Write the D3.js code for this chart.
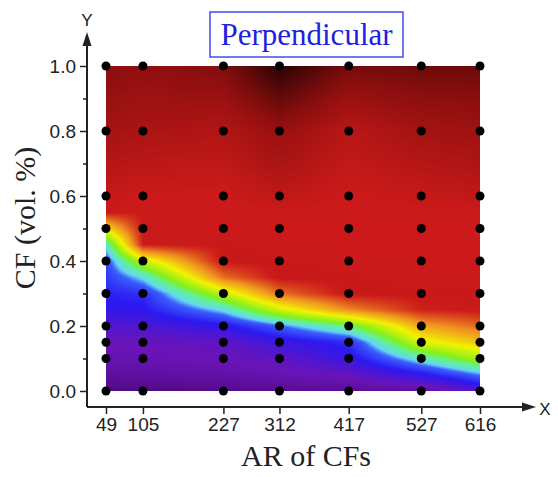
<!DOCTYPE html>
<html>
<head>
<meta charset="utf-8">
<script src="https://cdn.jsdelivr.net/npm/d3@7"></script>
<style>
body { margin: 0; background: #fff; }
</style>
</head>
<body>
<div id="chart"></div>
<script>
// AR of CFs (columns) and CF vol. % (rows) where the samples sit
var arValues = [49, 105, 227, 312, 417, 527, 616];
var cfValues = [0, 0.1, 0.15, 0.2, 0.3, 0.4, 0.5, 0.6, 0.8, 1.0];
var yMajor = [0, 0.2, 0.4, 0.6, 0.8, 1.0];
var yMinor = [0.1, 0.3, 0.5, 0.7, 0.9];

// colour level, one row per CF step (bottom to top), one value per AR column
var cfGrid = [0, 0.05, 0.1, 0.15, 0.2, 0.25, 0.3, 0.35, 0.4, 0.45, 0.5, 0.55, 0.6, 0.8, 1.0];
var lev000 = [0.2, 0.2, 0.3, 0.4, 0.5, 0.6, 1.4];
var lev005 = [0.6, 0.65, 0.75, 0.9, 1.1, 1.9, 2.8];
var lev010 = [0.9, 0.9, 1.0, 1.2, 1.8, 3.3, 4.35];
var lev015 = [1.0, 1.05, 1.2, 1.7, 2.2, 4.8, 5.5];
var lev020 = [1.35, 1.45, 1.9, 2.7, 3.7, 5.8, 6.35];
var lev025 = [1.9, 1.95, 3.1, 4.7, 6.05, 6.95, 7.05];
var lev030 = [2.1, 2.2, 4.55, 6.3, 7.1, 7.05, 7.05];
var lev035 = [2.3, 3.1, 6.3, 7.1, 7.05, 7.0, 7.0];
var lev040 = [2.45, 4.6, 7.1, 7.05, 7.0, 7.0, 7.0];
var lev045 = [3.2, 7.0, 7.05, 7.0, 7.0, 7.0, 7.0];
var lev050 = [5.2, 7.05, 7.0, 7.0, 7.0, 7.0, 7.0];
var lev055 = [7.05, 7.0, 7.0, 7.0, 7.0, 7.0, 7.0];
var lev060 = [7.1, 7.0, 7.0, 7.2, 7.0, 7.1, 7.2];
var lev080 = [7.6, 7.5, 7.4, 7.8, 7.3, 7.6, 7.7];
var lev100 = [8.0, 7.9, 8.1, 9.0, 8.2, 8.3, 8.3];
var levels = [lev000, lev005, lev010, lev015, lev020, lev025, lev030, lev035,
	lev040, lev045, lev050, lev055, lev060, lev080, lev100];

var colorDomain = [0, 1, 2, 2.7, 3, 3.5, 4, 5, 6, 7, 8, 9];
var colorRange = ["#4a0878", "#6a14b8", "#2c18f0", "#3a60ff", "#66d4f2", "#60f0a0", "#80f020",
	"#f2f200", "#f09220", "#cc1a1a", "#8a0e0e", "#2a0303"];

var w = 558;
var h = 477;

var x = d3.scaleLinear().domain([49, 616]).range([106, 480]);
var y = d3.scaleLinear().domain([0, 1]).range([391, 66]);
var color = d3.scaleLinear().domain(colorDomain).range(colorRange).clamp(true);

var svg = d3.select('#chart')
	.append('svg')
	.attr("width", w)
	.attr("height", h)
	.style("font-family", "Liberation Sans, Arial, sans-serif");

// heat map: bilinear between the grid values, drawn on a canvas
var x0 = Math.round(x(49)), x1 = Math.round(x(616));
var y0 = Math.round(y(1)), y1 = Math.round(y(0));
var cw = x1 - x0, ch = y1 - y0;
var canvas = document.createElement("canvas");
canvas.width = cw;
canvas.height = ch;
var ctx = canvas.getContext("2d");
var img = ctx.createImageData(cw, ch);

function seg(arr, v) {
	var i = d3.bisectRight(arr, v) - 1;
	if (i < 0) i = 0;
	if (i > arr.length - 2) i = arr.length - 2;
	var t = (v - arr[i]) / (arr[i + 1] - arr[i]);
	return [i, Math.max(0, Math.min(1, t))];
}

for (var py = 0; py < ch; py++) {
	var sy = seg(cfGrid, y.invert(y0 + py + 0.5));
	for (var px = 0; px < cw; px++) {
		var sx = seg(arValues, x.invert(x0 + px + 0.5));
		var a = levels[sy[0]], b = levels[sy[0] + 1];
		var lo = a[sx[0]] * (1 - sx[1]) + a[sx[0] + 1] * sx[1];
		var hi = b[sx[0]] * (1 - sx[1]) + b[sx[0] + 1] * sx[1];
		var c = d3.rgb(color(lo * (1 - sy[1]) + hi * sy[1]));
		var k = (py * cw + px) * 4;
		img.data[k] = c.r;
		img.data[k + 1] = c.g;
		img.data[k + 2] = c.b;
		img.data[k + 3] = 255;
	}
}
ctx.putImageData(img, 0, 0);

svg.append("image")
	.attr("x", x0)
	.attr("y", y0)
	.attr("width", cw)
	.attr("height", ch)
	.attr("href", canvas.toDataURL());

// sample points
var pts = [];
cfValues.forEach(function (cf) {
	arValues.forEach(function (ar) { pts.push([ar, cf]); });
});
svg.selectAll("circle.pt")
	.data(pts)
	.enter()
	.append("circle")
	.attr("class", "pt")
	.attr("cx", function (d) { return x(d[0]); })
	.attr("cy", function (d) { return y(d[1]); })
	.attr("r", 4.5)
	.style("fill", "#000");

// axes
var axX = 87, axY = 407;

var gx = svg.append("g")
	.attr("transform", "translate(0," + axY + ")")
	.call(d3.axisBottom(x).tickValues(arValues).tickSize(7).tickPadding(4).tickFormat(d3.format("d")));
gx.select(".domain").remove();
gx.selectAll("line").attr("stroke", "#222").attr("stroke-width", 1.5);
gx.selectAll("text").attr("font-size", 19).attr("fill", "#222");

var gy = svg.append("g")
	.attr("transform", "translate(" + axX + ",0)")
	.call(d3.axisLeft(y).tickValues(yMajor).tickSize(7).tickPadding(4).tickFormat(d3.format(".1f")));
gy.select(".domain").remove();
gy.selectAll("line").attr("stroke", "#222").attr("stroke-width", 1.5);
gy.selectAll("text").attr("font-size", 19).attr("fill", "#222");

var gy2 = svg.append("g")
	.attr("transform", "translate(" + axX + ",0)")
	.call(d3.axisLeft(y).tickValues(yMinor).tickSize(4).tickFormat(""));
gy2.select(".domain").remove();
gy2.selectAll("line").attr("stroke", "#222").attr("stroke-width", 1.5);

svg.append("line").attr("x1", axX).attr("y1", axY).attr("x2", 526).attr("y2", axY)
	.attr("stroke", "#222").attr("stroke-width", 2);
svg.append("line").attr("x1", axX).attr("y1", axY).attr("x2", axX).attr("y2", 42)
	.attr("stroke", "#222").attr("stroke-width", 2);
svg.append("path").attr("d", "M536," + axY + " L522," + (axY - 4.5) + " L522," + (axY + 4.5) + " Z").attr("fill", "#222");
svg.append("path").attr("d", "M" + axX + ",32 L" + (axX - 4.5) + ",46 L" + (axX + 4.5) + ",46 Z").attr("fill", "#222");

svg.append("text").attr("x", 545).attr("y", 415).attr("text-anchor", "middle")
	.attr("font-size", 17).attr("fill", "#222").text("X");
svg.append("text").attr("x", axX).attr("y", 26).attr("text-anchor", "middle")
	.attr("font-size", 17).attr("fill", "#222").text("Y");

// titles
svg.append("text")
	.attr("x", 306).attr("y", 466)
	.attr("text-anchor", "middle")
	.style("font-family", "Liberation Serif, Times New Roman, serif")
	.attr("font-size", 30).attr("fill", "#222")
	.text("AR of CFs");

svg.append("text")
	.attr("transform", "translate(35,218) rotate(-90)")
	.attr("text-anchor", "middle")
	.style("font-family", "Liberation Serif, Times New Roman, serif")
	.attr("font-size", 30).attr("fill", "#222")
	.text("CF (vol. %)");

svg.append("rect")
	.attr("x", 210).attr("y", 12).attr("width", 193).attr("height", 45)
	.attr("fill", "#fff").attr("stroke", "#4a4aee").attr("stroke-width", 1.5);
svg.append("text")
	.attr("x", 306.5).attr("y", 45)
	.attr("text-anchor", "middle")
	.style("font-family", "Liberation Serif, Times New Roman, serif")
	.attr("font-size", 31).attr("fill", "#1f1fe0")
	.text("Perpendicular");
</script>
</body>
</html>
